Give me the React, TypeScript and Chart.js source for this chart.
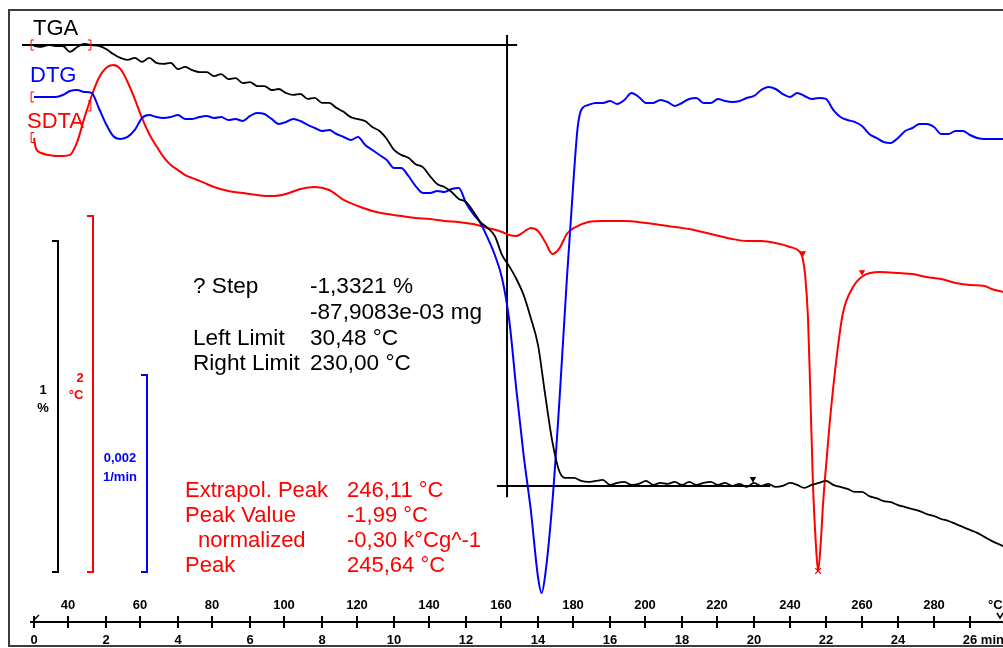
import React, { useEffect, useRef } from 'react';
import { Chart, registerables } from 'chart.js';

Chart.register(...registerables);

// ---------- data (time in min) ----------
const tgaTime = [0,0.2,0.4,0.6,0.8,1,1.2,1.4,1.6,1.8,2,2.2,2.4,2.6,2.8,3,3.2,3.4,3.6,3.8,4,4.2,4.4,4.6,4.8,5,5.2,5.4,5.6,5.8,6,6.2,6.4,6.6,6.8,7,7.2,7.4,7.6,7.8,8,8.2,8.4,8.6,8.8,9,9.2,9.4,9.6,9.8,10,10.2,10.4,10.6,10.8,11,11.2,11.4,11.6,11.8,12,12.2,12.4,12.6,12.8,13,13.2,13.4,13.6,13.8,14,14.2,14.4,14.6,14.8,15,15.2,15.4,15.6,15.8,16,16.2,16.4,16.6,16.8,17,17.2,17.4,17.6,17.8,18,18.2,18.4,18.6,18.8,19,19.2,19.4,19.6,19.8,20,20.2,20.4,20.6,20.8,21,21.2,21.4,21.6,21.8,22,22.2,22.4,22.6,22.8,23,23.2,23.4,23.6,23.8,24,24.2,24.4,24.6,24.8,25,25.2,25.4,25.6,25.8,26,26.2,26.4,26.6,26.8,26.92];
// TGA, mass %
const tgaMass = [99.997,99.994,100.000,99.997,99.997,99.979,99.994,100.003,100.000,99.997,99.988,99.973,99.961,99.955,99.961,99.949,99.961,99.946,99.943,99.946,99.927,99.934,99.924,99.918,99.918,99.906,99.912,99.897,99.900,99.885,99.888,99.876,99.876,99.864,99.867,99.855,99.849,99.852,99.837,99.840,99.825,99.825,99.810,99.798,99.782,99.776,99.770,99.752,99.740,99.716,99.683,99.668,99.659,99.640,99.631,99.604,99.580,99.571,99.556,99.535,99.526,99.498,99.465,99.447,99.423,99.366,99.332,99.293,99.245,99.175,99.094,98.943,98.801,98.710,98.692,98.692,98.683,98.680,98.683,98.686,98.671,98.677,98.680,98.671,98.674,98.683,98.671,98.677,98.674,98.680,98.671,98.680,98.671,98.677,98.680,98.671,98.677,98.668,98.674,98.665,98.677,98.668,98.674,98.665,98.668,98.677,98.671,98.662,98.671,98.677,98.683,98.671,98.665,98.659,98.650,98.650,98.637,98.631,98.622,98.619,98.610,98.604,98.598,98.592,98.583,98.577,98.568,98.562,98.553,98.544,98.535,98.526,98.514,98.502,98.492,98.486];

const dtgTime = [0,0.2,0.4,0.6,0.8,1,1.2,1.4,1.6,1.8,2,2.2,2.4,2.6,2.8,3,3.2,3.4,3.6,3.8,4,4.2,4.4,4.6,4.8,5,5.2,5.4,5.6,5.8,6,6.2,6.4,6.6,6.8,7,7.2,7.4,7.6,7.8,8,8.2,8.4,8.6,8.8,9,9.2,9.4,9.6,9.8,10,10.2,10.4,10.6,10.8,11,11.2,11.4,11.6,11.8,12,12.2,12.4,12.6,12.8,13,13.2,13.4,13.6,13.8,14,14.1,14.2,14.4,14.6,14.8,15,15.1,15.2,15.4,15.6,15.8,16,16.2,16.4,16.6,16.8,17,17.2,17.4,17.6,17.8,18,18.2,18.4,18.6,18.8,19,19.2,19.4,19.6,19.8,20,20.2,20.4,20.6,20.8,21,21.2,21.4,21.6,21.8,22,22.2,22.4,22.6,22.8,23,23.2,23.4,23.6,23.8,24,24.2,24.4,24.6,24.8,25,25.2,25.4,25.6,25.8,26,26.2,26.4,26.6,26.92];
// DTG, 1/min
const dtgRate = [0,0,0,0,0.000020,0.000061,0.000071,0.000051,0.000041,-0.000112,-0.000274,-0.000396,-0.000426,-0.000406,-0.000335,-0.000213,-0.000183,-0.000203,-0.000213,-0.000203,-0.000183,-0.000223,-0.000223,-0.000203,-0.000193,-0.000213,-0.000203,-0.000234,-0.000223,-0.000244,-0.000193,-0.000162,-0.000173,-0.000223,-0.000274,-0.000254,-0.000223,-0.000244,-0.000284,-0.000315,-0.000345,-0.000335,-0.000376,-0.000406,-0.000437,-0.000406,-0.000487,-0.000538,-0.000589,-0.000640,-0.000721,-0.000721,-0.000802,-0.000904,-0.000975,-0.000975,-0.000954,-0.000964,-0.000934,-0.000924,-0.001076,-0.001188,-0.001279,-0.001431,-0.001604,-0.001838,-0.002264,-0.002975,-0.003634,-0.004193,-0.004873,-0.005035,-0.004853,-0.004112,-0.003056,-0.001858,-0.000772,-0.000315,-0.000132,-0.000081,-0.000061,-0.000061,-0.000041,-0.000071,-0.000030,0.000041,0,-0.000061,-0.000061,-0.000030,-0.000051,-0.000091,-0.000061,-0.000020,-0.000010,-0.000061,-0.000061,-0.000020,-0.000041,-0.000051,-0.000041,-0.000010,0.000010,0.000071,0.000102,0.000081,0.000030,0,0.000041,0.000010,-0.000020,-0.000010,-0.000020,-0.000132,-0.000203,-0.000234,-0.000254,-0.000294,-0.000376,-0.000416,-0.000457,-0.000467,-0.000416,-0.000345,-0.000315,-0.000274,-0.000274,-0.000305,-0.000376,-0.000376,-0.000345,-0.000345,-0.000386,-0.000416,-0.000426,-0.000426,-0.000426];

const sdtaTime = [0,0.05,0.2,0.4,0.6,0.8,1,1.1,1.2,1.4,1.6,1.8,2,2.2,2.4,2.6,2.8,3,3.2,3.4,3.6,3.8,4,4.2,4.4,4.6,4.8,5,5.4,5.8,6.2,6.6,7,7.4,7.8,8.2,8.6,9,9.4,9.8,10.2,10.6,11,11.4,11.8,12.2,12.6,13,13.2,13.4,13.6,13.8,14,14.2,14.4,14.6,14.8,15,15.4,15.8,16.4,17,17.6,18.2,18.8,19.4,19.8,20.2,20.6,21,21.25,21.35,21.42,21.5,21.56,21.64,21.72,21.78,21.85,21.92,22.02,22.11,22.31,22.47,22.75,23.03,23.5,24,24.4,24.8,25.2,25.6,26,26.4,26.6,26.92];
// SDTA, °C
const sdtaDelta = [0.629,0.573,0.545,0.534,0.528,0.528,0.534,0.562,0.607,0.742,0.865,0.966,1.022,1.039,1.017,0.944,0.848,0.742,0.652,0.584,0.522,0.478,0.449,0.421,0.404,0.388,0.371,0.354,0.331,0.320,0.309,0.303,0.315,0.343,0.354,0.337,0.281,0.247,0.219,0.202,0.191,0.180,0.174,0.163,0.157,0.146,0.124,0.101,0.084,0.079,0.101,0.124,0.107,0.045,-0.022,0.011,0.090,0.124,0.157,0.163,0.163,0.152,0.135,0.118,0.090,0.062,0.051,0.051,0.039,0.017,-0.006,-0.045,-0.140,-0.382,-0.770,-1.331,-1.657,-1.803,-1.657,-1.421,-1.169,-0.955,-0.579,-0.354,-0.208,-0.146,-0.124,-0.129,-0.135,-0.152,-0.163,-0.185,-0.197,-0.202,-0.219,-0.236];

// TGA step evaluation
const stepUpperTime = [-0.333, 13.42];
const stepUpperLevel = 100.0;
const stepLowerTime = [12.86, 20.45];
const stepLowerLevel = 98.6679;
const stepInflectionTime = 13.14;
const stepInflectionRange = [100.03, 98.634];

// limit markers
const tgaLimitMarks = [{ x: 19.97, y: 98.689 }];
const sdtaLimitMarks = [{ x: 21.36, y: -0.017 }, { x: 23.0, y: -0.124 }];
const sdtaPeakMark = [{ x: 21.78, y: -1.803 }];

// axes
const timeTicks = [0, 2, 4, 6, 8, 10, 12, 14, 16, 18, 20, 22, 24, 26];
const tempTicks = [40, 60, 80, 100, 120, 140, 160, 180, 200, 220, 240, 260, 280];

// scale bars: [top, bottom] in each unit
const tgaBar = [99.408, 98.408];
const sdtaBar = [0.191, -1.809];
const dtgBar = [-0.002822, -0.004822];

const FONT = "'Liberation Sans', Arial, Helvetica, sans-serif";
const RED = '#ff0000';
const BLUE = '#0000ff';

const zip = (xs: number[], ys: number[]) => xs.map((x, i) => ({ x, y: ys[i] }));

const overlay = {
  id: 'overlay',
  afterDraw(chart: any) {
    const { ctx, scales } = chart;
    const x = scales.x, xT = scales.xT, yT = scales.yT, yD = scales.yD, yS = scales.yS;
    ctx.save();

    // frame
    ctx.strokeStyle = '#3c3c3c';
    ctx.lineWidth = 2;
    ctx.strokeRect(9, 10, 1200, 636);

    // axis line
    ctx.strokeStyle = '#000';
    ctx.lineWidth = 2;
    ctx.beginPath();
    ctx.moveTo(30, 622);
    ctx.lineTo(1003, 622);
    ctx.stroke();

    ctx.fillStyle = '#000';
    ctx.font = `bold 13px ${FONT}`;
    ctx.textBaseline = 'middle';
    ctx.textAlign = 'center';
    tempTicks.forEach((T) => {
      const px = Math.round(xT.getPixelForValue(T));
      ctx.beginPath();
      ctx.moveTo(px, 616);
      ctx.lineTo(px, 628);
      ctx.stroke();
      ctx.fillText(String(T), px, 605);
    });
    ctx.textAlign = 'left';
    ctx.fillText('°C', 988, 605);

    timeTicks.forEach((t) => {
      const px = Math.round(x.getPixelForValue(t));
      ctx.beginPath();
      ctx.moveTo(px, 616);
      ctx.lineTo(px, 628);
      ctx.stroke();
      if (t === 26) {
        ctx.textAlign = 'left';
        ctx.fillText('26 min', px - ctx.measureText('26').width / 2, 640);
      } else {
        ctx.textAlign = 'center';
        ctx.fillText(String(t), px, 640);
      }
    });
    // start hook and end arrow
    const p0 = Math.round(x.getPixelForValue(0));
    ctx.lineWidth = 1.5;
    ctx.beginPath();
    ctx.moveTo(p0, 620);
    ctx.lineTo(p0 + 5, 615);
    ctx.stroke();
    ctx.beginPath();
    ctx.moveTo(997, 613);
    ctx.lineTo(1000, 618);
    ctx.lineTo(1003, 613);
    ctx.stroke();

    // scale bars
    const bar = (xr: number, top: number, bottom: number, color: string) => {
      ctx.strokeStyle = color;
      ctx.lineWidth = 2;
      ctx.beginPath();
      ctx.moveTo(xr - 6, top);
      ctx.lineTo(xr, top);
      ctx.lineTo(xr, bottom);
      ctx.lineTo(xr - 6, bottom);
      ctx.stroke();
    };
    bar(58, yT.getPixelForValue(tgaBar[0]), yT.getPixelForValue(tgaBar[1]), '#000');
    bar(93, yS.getPixelForValue(sdtaBar[0]), yS.getPixelForValue(sdtaBar[1]), RED);
    bar(147, yD.getPixelForValue(dtgBar[0]), yD.getPixelForValue(dtgBar[1]), BLUE);

    ctx.font = `bold 13px ${FONT}`;
    ctx.textAlign = 'center';
    ctx.textBaseline = 'middle';
    ctx.fillStyle = '#000';
    ctx.fillText('1', 43, 390);
    ctx.fillText('%', 43, 408);
    ctx.fillStyle = RED;
    ctx.fillText('2', 80, 378);
    ctx.fillText('°C', 76, 395);
    ctx.fillStyle = BLUE;
    ctx.fillText('0,002', 120, 458);
    ctx.fillText('1/min', 120, 477);

    // integration limit brackets
    const bracket = (px: number, py: number, open: boolean) => {
      ctx.strokeStyle = RED;
      ctx.lineWidth = 1;
      const d = open ? 3 : -3;
      ctx.beginPath();
      ctx.moveTo(px + d, py - 5);
      ctx.lineTo(px, py - 5);
      ctx.lineTo(px, py + 5);
      ctx.lineTo(px + d, py + 5);
      ctx.stroke();
    };
    bracket(x.getPixelForValue(-0.08), yT.getPixelForValue(100.0), true);
    bracket(x.getPixelForValue(1.58), yT.getPixelForValue(100.0), false);
    bracket(x.getPixelForValue(-0.08), yD.getPixelForValue(0), true);
    bracket(x.getPixelForValue(1.58), yD.getPixelForValue(-0.000091), false);
    bracket(x.getPixelForValue(-0.08), yS.getPixelForValue(0.632), true);

    // legend labels
    ctx.font = `22px ${FONT}`;
    ctx.textAlign = 'left';
    ctx.textBaseline = 'alphabetic';
    ctx.fillStyle = '#000';
    ctx.fillText('TGA', 33, 35);
    ctx.fillStyle = BLUE;
    ctx.fillText('DTG', 30, 82);
    ctx.fillStyle = RED;
    ctx.fillText('SDTA', 27, 128);

    // TGA step annotation
    ctx.font = `22.6px ${FONT}`;
    ctx.fillStyle = '#000';
    ctx.fillText('? Step', 193, 293);
    ctx.fillText('-1,3321 %', 310, 293);
    ctx.fillText('-87,9083e-03 mg', 310, 319);
    ctx.fillText('Left Limit', 193, 345);
    ctx.fillText('30,48 °C', 310, 345);
    ctx.fillText('Right Limit', 193, 370);
    ctx.fillText('230,00 °C', 310, 370);

    // SDTA peak annotation
    ctx.font = `22px ${FONT}`;
    ctx.fillStyle = RED;
    ctx.fillText('Extrapol. Peak', 185, 497);
    ctx.fillText('246,11 °C', 347, 497);
    ctx.fillText('Peak Value', 185, 522);
    ctx.fillText('-1,99 °C', 347, 522);
    ctx.fillText('normalized', 198, 547);
    ctx.fillText('-0,30 k°Cg^-1', 347, 547);
    ctx.fillText('Peak', 185, 572);
    ctx.fillText('245,64 °C', 347, 572);

    ctx.restore();
  },
};

export default function App() {
  const ref = useRef<HTMLCanvasElement | null>(null);

  useEffect(() => {
    if (!ref.current) return;
    const line = (data: any[], color: string, yAxisID: string, width = 2) => ({
      data,
      borderColor: color,
      backgroundColor: color,
      borderWidth: width,
      pointRadius: 0,
      fill: false,
      xAxisID: 'x',
      yAxisID,
      cubicInterpolationMode: 'monotone',
    });
    const marks = (data: any[], color: string, yAxisID: string, style: string, radius: number, rotation = 0) => ({
      data,
      showLine: false,
      borderColor: color,
      backgroundColor: color,
      pointStyle: style,
      pointRadius: radius,
      pointRotation: rotation,
      pointBorderWidth: 1.2,
      xAxisID: 'x',
      yAxisID,
    });

    const chart = new Chart(ref.current, {
      type: 'line',
      data: {
        datasets: [
          line(zip(tgaTime, tgaMass), '#000', 'yT', 1.8),
          line(zip(dtgTime, dtgRate), BLUE, 'yD'),
          line(zip(sdtaTime, sdtaDelta), RED, 'yS'),
          line(stepUpperTime.map((t) => ({ x: t, y: stepUpperLevel })), '#000', 'yT', 2),
          line(stepLowerTime.map((t) => ({ x: t, y: stepLowerLevel })), '#000', 'yT', 2),
          line(stepInflectionRange.map((v) => ({ x: stepInflectionTime, y: v })), '#000', 'yT', 2),
          marks(tgaLimitMarks, '#000', 'yT', 'triangle', 2.5, 180),
          marks(sdtaLimitMarks, RED, 'yS', 'triangle', 2.5, 180),
          marks(sdtaPeakMark, RED, 'yS', 'crossRot', 4),
        ] as any,
      },
      options: {
        animation: false,
        responsive: false,
        events: [],
        layout: { autoPadding: false, padding: { left: 9, top: 10, right: 0, bottom: 26 } },
        plugins: { legend: { display: false }, tooltip: { enabled: false } },
        scales: {
          x: { type: 'linear', display: false, min: -0.6944, max: 26.9167 },
          xT: { type: 'linear', display: false, min: 23.65, max: 299.13 },
          yT: { type: 'linear', display: false, min: 98.2568, max: 100.1057 },
          yD: { type: 'linear', display: false, min: -0.00533, max: 0.000883 },
          yS: { type: 'linear', display: false, min: -2.0899, max: 1.3483 },
        },
      } as any,
      plugins: [overlay],
    });
    return () => chart.destroy();
  }, []);

  return (
    <div style={{ position: 'fixed', left: 0, top: 0, width: 1003, height: 648, background: '#fff' }}>
      <canvas ref={ref} width={1003} height={648} style={{ display: 'block', width: 1003, height: 648 }} />
    </div>
  );
}
